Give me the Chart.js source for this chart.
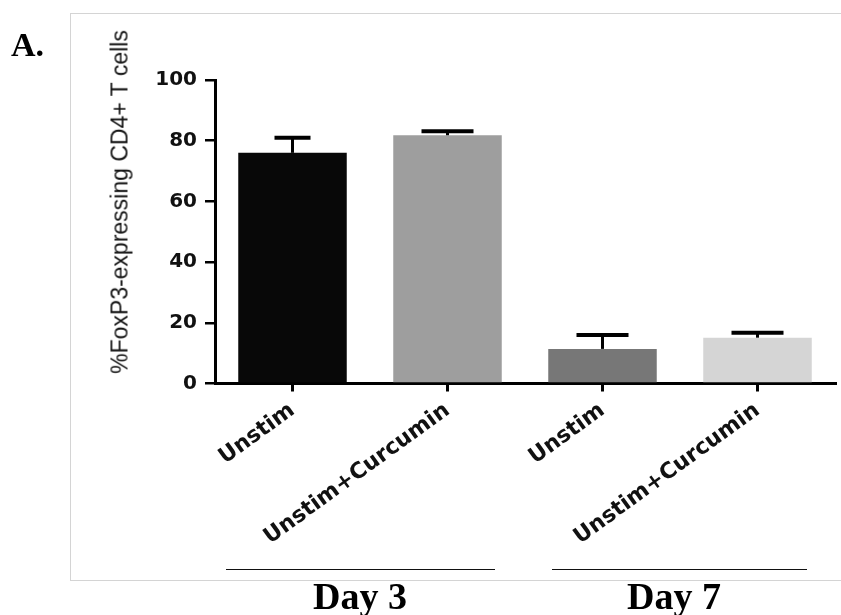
<!DOCTYPE html>
<html>
<head>
<meta charset="utf-8">
<script src="https://cdn.jsdelivr.net/npm/chart.js@4"></script>
<style>
  html, body { margin: 0; padding: 0; background: #fff; }
  #wrap { position: relative; width: 841px; height: 615px; overflow: hidden; background: #fff; }
  #frame { position: absolute; left: 70px; top: 13px; width: 790px; height: 568px;
           border: 1.5px solid #d4d4d4; box-sizing: border-box; }
  #c { position: absolute; left: 0; top: 0; }
  .serif { position: absolute; font-family: "Liberation Serif", "DejaVu Serif", serif; font-weight: bold; color: #000; white-space: nowrap; }
  .grp { position: absolute; height: 0; border-top: 1.5px solid #111; }
  #ytitle { position: absolute; left: 120px; top: 202px; transform: translate(-50%, -50%) rotate(-90deg);
            font-family: "Liberation Sans", Arial, sans-serif; font-size: 23px; color: #111; white-space: nowrap; }
</style>
</head>
<body>
<div id="wrap">
  <div id="frame"></div>
  <canvas id="c" width="841" height="615"></canvas>
  <div id="ytitle"></div>
  <div class="serif" style="left:11px; top:26px; font-size:34px;">A.</div>
  <div class="grp" style="left:226px; top:569px; width:269px;"></div>
  <div class="grp" style="left:552px; top:569px; width:255px;"></div>
  <div class="serif" style="left:300px; top:574px; font-size:38px; width:120px; text-align:center;">Day 3</div>
  <div class="serif" style="left:614px; top:574px; font-size:38px; width:120px; text-align:center;">Day 7</div>
</div>
<script>
const categories = ["Unstim", "Unstim+Curcumin", "Unstim", "Unstim+Curcumin"];
const meanValues = [76.0, 81.8, 11.4, 15.1];
const errorUpper = [5.0, 1.3, 4.6, 1.6];
const barColors = ["#080808", "#9e9e9e", "#777777", "#d5d5d5"];
const yTicks = [0, 20, 40, 60, 80, 100];
const yTitle = "%FoxP3-expressing CD4+ T cells";

document.getElementById('ytitle').textContent = yTitle;

const errorBarPlugin = {
  id: 'errorBars',
  afterDatasetsDraw(chart) {
    const ctx = chart.ctx;
    const meta = chart.getDatasetMeta(0);
    const yScale = chart.scales.y;
    ctx.save();
    ctx.strokeStyle = '#000';
    meta.data.forEach((bar, i) => {
      const x = bar.x;
      const yTop = yScale.getPixelForValue(meanValues[i]);
      const yErr = yScale.getPixelForValue(meanValues[i] + errorUpper[i]);
      const half = i === 0 ? 18 : 26;
      ctx.lineWidth = 3;
      ctx.beginPath();
      ctx.moveTo(x, yTop);
      ctx.lineTo(x, yErr);
      ctx.stroke();
      ctx.lineWidth = 4;
      ctx.beginPath();
      ctx.moveTo(x - half, yErr);
      ctx.lineTo(x + half, yErr);
      ctx.stroke();
    });
    ctx.restore();
  }
};

new Chart(document.getElementById('c'), {
  type: 'bar',
  data: {
    labels: categories,
    datasets: [{
      data: meanValues,
      backgroundColor: barColors,
      borderWidth: 0,
      barPercentage: 0.7,
      categoryPercentage: 1.0
    }]
  },
  options: {
    responsive: false,
    animation: false,
    devicePixelRatio: 1,
    layout: { padding: { left: 103, top: 80, right: 6, bottom: 0 } },
    plugins: { legend: { display: false }, tooltip: { enabled: false } },
    scales: {
      x: {
        grid: { display: true, drawOnChartArea: false, offset: false, tickLength: 8, lineWidth: 3, color: '#000' },
        border: { display: true, color: '#000', width: 3 },
        ticks: {
          color: '#111',
          font: { family: 'DejaVu Sans', weight: 'bold', size: 22 },
          minRotation: 36, maxRotation: 36, padding: 6, autoSkip: false
        },
        afterFit(scale) { scale.height = 231.5; }
      },
      y: {
        min: 0, max: 100,
        afterBuildTicks(scale) { scale.ticks = yTicks.map(v => ({ value: v })); },
        grid: { display: true, drawOnChartArea: false, tickLength: 10, lineWidth: 2.5, color: '#000' },
        border: { display: true, color: '#000', width: 3 },
        ticks: {
          color: '#111',
          font: { family: 'DejaVu Sans', weight: 'bold', size: 20 },
          padding: 8
        },
        title: { display: false },
        afterFit(scale) { scale.width = 112; }
      }
    }
  },
  plugins: [errorBarPlugin]
});
</script>
</body>
</html>
